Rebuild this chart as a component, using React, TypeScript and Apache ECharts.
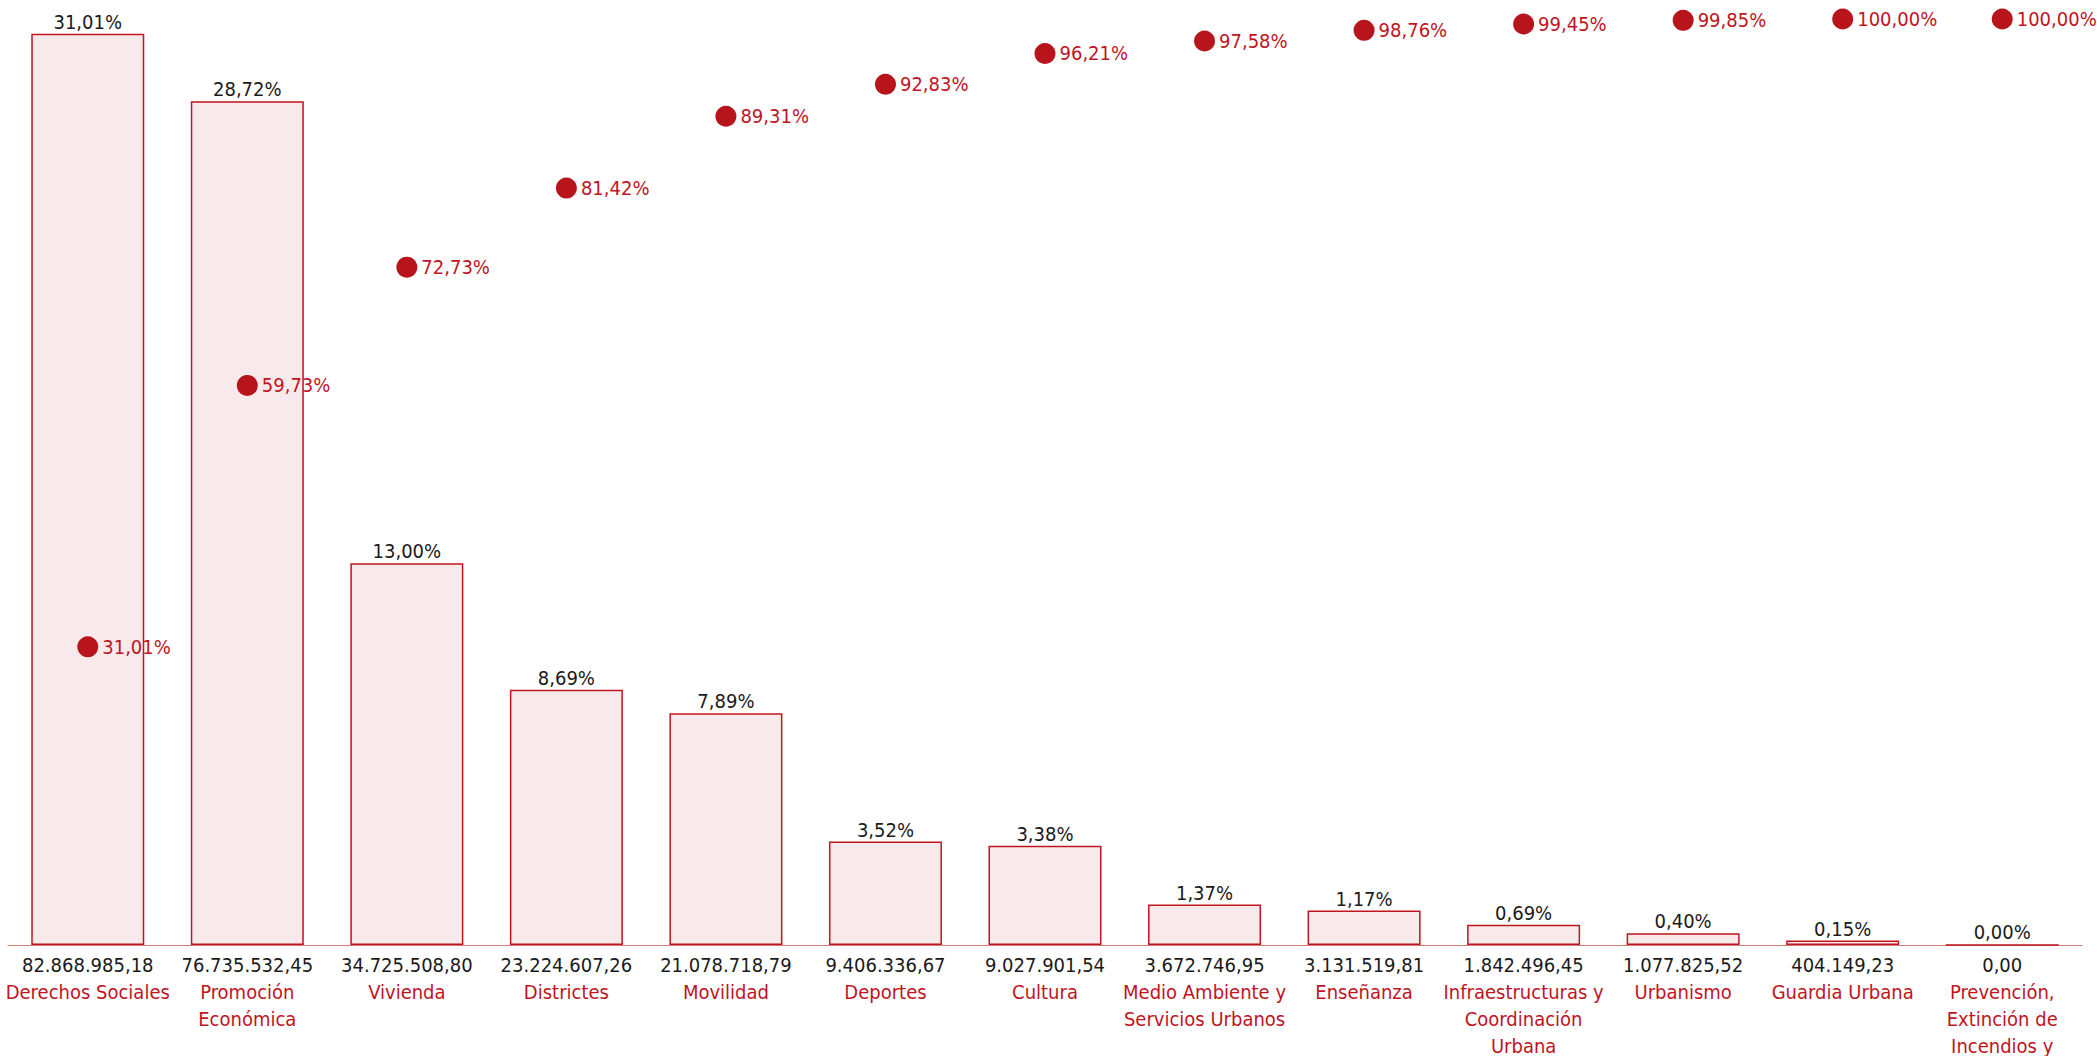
import React, { useEffect, useRef } from "react";
import * as echarts from "echarts";

const categories = [
  "Derechos Sociales",
  "Promoción Económica",
  "Vivienda",
  "Districtes",
  "Movilidad",
  "Deportes",
  "Cultura",
  "Medio Ambiente y Servicios Urbanos",
  "Enseñanza",
  "Infraestructuras y Coordinación Urbana",
  "Urbanismo",
  "Guardia Urbana",
  "Prevención, Extinción de Incendios y Salvamento",
];

const amounts = [
  82868985.18, 76735532.45, 34725508.8, 23224607.26, 21078718.79, 9406336.67,
  9027901.54, 3672746.95, 3131519.81, 1842496.45, 1077825.52, 404149.23, 0,
];

const shares = [31.01, 28.72, 13.0, 8.69, 7.89, 3.52, 3.38, 1.37, 1.17, 0.69, 0.4, 0.15, 0.0];

const cumulative = [
  31.01, 59.73, 72.73, 81.42, 89.31, 92.83, 96.21, 97.58, 98.76, 99.45, 99.85, 100.0, 100.0,
];

const FONT = "'DejaVu Sans Condensed', 'Liberation Sans Narrow', Roboto, sans-serif";
const FS = 20;
const RED = "#c0141f";
const DOT = "#b8141b";

function fmtNum(v: number): string {
  const [i, d] = v.toFixed(2).split(".");
  return i.replace(/\B(?=(\d{3})+(?!\d))/g, ".") + "," + d;
}
function fmtPct(v: number): string {
  return v.toFixed(2).replace(".", ",") + "%";
}

let measureCtx: CanvasRenderingContext2D | null = null;
function wrapName(name: string, maxW: number): string {
  if (!measureCtx) measureCtx = document.createElement("canvas").getContext("2d");
  const ctx = measureCtx!;
  ctx.font = `${FS}px ${FONT}`;
  const words = name.split(" ");
  const lines: string[] = [];
  let cur = "";
  for (const w of words) {
    const t = cur ? cur + " " + w : w;
    if (cur && ctx.measureText(t).width > maxW) {
      lines.push(cur);
      cur = w;
    } else cur = t;
  }
  if (cur) lines.push(cur);
  return lines.join("\n");
}

export default function App() {
  const ref = useRef<HTMLDivElement>(null);
  useEffect(() => {
    if (!ref.current) return;
    const chart = echarts.init(ref.current, undefined, { renderer: "svg" });
    chart.setOption({
      animation: false,
      textStyle: { fontFamily: FONT },
      grid: {
        left: 8,
        right: 15,
        top: 19,
        bottom: 111,
        containLabel: false,
        outerBoundsMode: "none",
      },
      xAxis: {
        type: "category",
        data: categories,
        axisLine: { show: true, lineStyle: { color: "#d27b7b", width: 1 } },
        axisTick: { show: false },
        axisLabel: {
          interval: 0,
          margin: 6,
          fontFamily: FONT,
          fontSize: FS,
          lineHeight: 27,
          hideOverlap: false,
          formatter: (name: string, idx: number) => {
            const lines = wrapName(name, 172)
              .split("\n")
              .map((l) => `{n|${l}}`)
              .join("\n");
            return `{v|${fmtNum(amounts[idx])}}\n${lines}`;
          },
          rich: {
            v: { color: "#1a1a1a", fontSize: FS, lineHeight: 27, fontFamily: FONT },
            n: { color: RED, fontSize: FS, lineHeight: 27, fontFamily: FONT },
          },
        },
      },
      yAxis: [
        { type: "value", min: 0, max: 84220000, show: false, splitLine: { show: false } },
        { type: "value", min: -1.76, max: 100, show: false, splitLine: { show: false } },
      ],
      series: [
        {
          type: "bar",
          data: amounts,
          barWidth: 113,
          yAxisIndex: 0,
          itemStyle: { color: "#f8eaeb", borderColor: RED, borderWidth: 1.5 },
          label: {
            show: true,
            position: "top",
            distance: 2,
            color: "#1a1a1a",
            fontSize: FS,
            fontFamily: FONT,
            formatter: (p: any) => fmtPct(shares[p.dataIndex]),
          },
        },
        {
          type: "line",
          data: cumulative,
          yAxisIndex: 1,
          symbol: "circle",
          symbolSize: 21,
          lineStyle: { width: 0, opacity: 0 },
          itemStyle: { color: DOT },
          label: {
            show: true,
            position: "right",
            distance: 4,
            color: RED,
            fontSize: FS,
            fontFamily: FONT,
            formatter: (p: any) => fmtPct(p.value),
          },
        },
      ],
    });
    return () => chart.dispose();
  }, []);
  return (
    <div
      ref={ref}
      style={{ position: "absolute", left: 0, top: 0, width: 2097, height: 1056 }}
    />
  );
}
